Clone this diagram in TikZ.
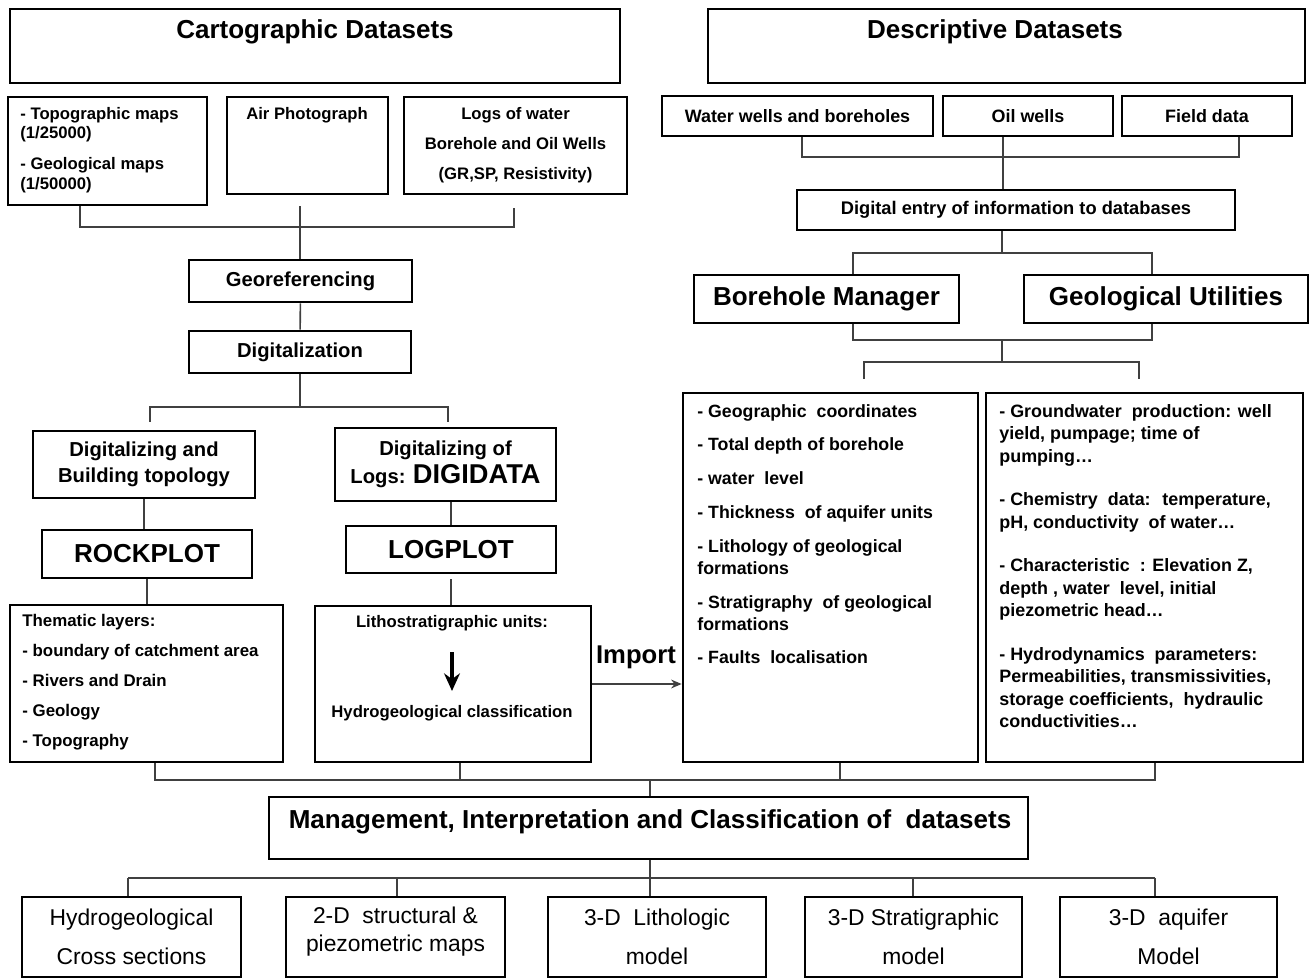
\documentclass[tikz,border=0pt]{standalone}
\usepackage{fontspec}
\setmainfont{Liberation Sans}
\usetikzlibrary{arrows.meta,positioning,fit,calc}

\begin{document}
\begin{tikzpicture}[x=0.02cm, y=-0.02cm, >=Stealth,
  box/.style={draw, line width=1.5pt, inner sep=0pt},
  link/.style={black!75, line width=0.9pt},
  big/.style={font=\bfseries\fontsize{14.8}{17}\selectfont, align=center},
  mid/.style={font=\bfseries\fontsize{11.5}{14.7}\selectfont, align=center},
  sml/.style={font=\bfseries\fontsize{9.5}{11}\selectfont, align=center},
  wel/.style={font=\bfseries\fontsize{10.2}{12}\selectfont},
  info/.style={font=\bfseries\fontsize{10.1}{12.6}\selectfont, inner sep=0pt, align=left, anchor=north west},
  outtxt/.style={font=\fontsize{13}{22}\selectfont, align=center},
]
  \useasboundingbox (0,0) rectangle (1311,979);

  %% ── Left: cartographic datasets ────────────────────────────
  \node[box, fit={(10,9) (620,83)}] (carto) {};
  \node[big] (cartot) at (315,32) {Cartographic Datasets};
  \node[box, fit={(8,97) (207,205)}] (topo) {};
  \node[sml, align=left, anchor=west, inner sep=0pt] (topot) at (20,150)
    {- Topographic maps\\(1/25000)\\[6.8pt]- Geological maps\\(1/50000)};
  \node[box, fit={(227,97) (388,194)}] (air) {};
  \node[sml] (airt) at (307,115) {Air Photograph};
  \node[box, fit={(404,97) (627,194)}] (logs) {};
  \node[sml] (logst) at (logs)
    {Logs of water\\[6pt]Borehole and Oil Wells\\[6pt](GR,SP, Resistivity)};

  \node[box, fit={(189,260) (412,302)}] (geo) {};
  \node[mid] (geot) at (geo) {Georeferencing};
  \node[box, fit={(189,331) (411,373)}] (digit) {};
  \node[mid] (digitt) at (digit) {Digitalization};
  \node[box, fit={(33,431) (255,498)}] (dgtopo) {};
  \node[mid] (dgtopot) at (dgtopo) {Digitalizing and\\Building topology};
  \node[box, fit={(335,428) (556,501)}] (dglogs) {};
  \node[mid] (dglogst) at (dglogs)
    {Digitalizing of\\[1pt]Logs: {\fontsize{15.5}{16}\selectfont DIGIDATA}};
  \node[box, fit={(42,530) (252,578)}] (rock) {};
  \node[big] (rockt) at (rock) {ROCKPLOT};
  \node[box, fit={(346,526) (556,573)}] (logplot) {};
  \node[big] (logplott) at (logplot) {LOGPLOT};

  \node[box, fit={(10,605) (283,762)}] (thema) {};
  \node[font=\bfseries\fontsize{9.6}{17}\selectfont, align=left, anchor=west, inner sep=0pt]
    (themat) at (22,682)
    {Thematic layers:\\- boundary of catchment area\\- Rivers and Drain\\- Geology\\- Topography};
  \node[box, fit={(315,606) (591,762)}] (litho) {};
  \node[sml] (lunits) at (452,623) {Lithostratigraphic units:};
  \node[sml] (hclass) at (452,713) {Hydrogeological classification};
  \draw[line width=2.2pt, -{Stealth[length=10pt,width=9pt]},
    shorten <=0.3cm, shorten >=0.16cm] (lunits.south) -- (hclass.north);

  %% ── Right: descriptive datasets ────────────────────────────
  \node[box, fit={(708,9) (1305,83)}] (descr) {};
  \node[big] (descrt) at (995,32) {Descriptive Datasets};
  \node[box, fit={(662,96) (933,136)}] (wells) {};
  \node[wel] (wellst) at (wells) {Water wells and boreholes};
  \node[box, fit={(943,96) (1113,136)}] (oil) {};
  \node[wel] (oilt) at (oil) {Oil wells};
  \node[box, fit={(1122,96) (1292,136)}] (field) {};
  \node[wel] (fieldt) at (field) {Field data};
  \node[box, fit={(797,190) (1235,230)}] (entry) {};
  \node[wel, font=\bfseries\fontsize{10.4}{12}\selectfont] (entryt) at (entry)
    {Digital entry of information to databases};
  \node[box, fit={(694,275) (959,323)}] (bhm) {};
  \node[big] (bhmt) at (bhm) {Borehole Manager};
  \node[box, fit={(1024,275) (1308,323)}] (geou) {};
  \node[big] (geout) at (geou) {Geological Utilities};

  \node[box, fit={(683,393) (978,762)}] (infoL) {};
  \node[info] (infoLt) at (697,404)
    {- Geographic~ coordinates\\[6.6pt]
     - Total depth of borehole\\[6.6pt]
     - water~ level\\[6.6pt]
     - Thickness~ of aquifer units\\[6.6pt]
     - Lithology of geological\\formations\\[6.6pt]
     - Stratigraphy~ of geological\\formations\\[6.6pt]
     - Faults~ localisation};
  \node[box, fit={(986,393) (1303,762)}] (infoR) {};
  \node[info, font=\bfseries\fontsize{10.2}{12.8}\selectfont] (infoRt) at (999,404)
    {- Groundwater~ production: well\\yield, pumpage; time of\\pumping\dots\\[12pt]
     - Chemistry~ data:~ temperature,\\pH, conductivity~ of water\dots\\[12pt]
     - Characteristic~ : Elevation Z,\\depth , water~ level, initial\\piezometric head\dots\\[12pt]
     - Hydrodynamics~ parameters:\\Permeabilities, transmissivities,\\storage coefficients,~ hydraulic\\conductivities\dots};

  \node[font=\bfseries\fontsize{14.6}{16}\selectfont] (imp) at (636,657) {Import};
  \draw[link, -{Stealth[length=6pt,width=5pt]}] (litho.east) -- (litho.east -| infoL.west);

  %% ── Bottom: management and outputs ────────────────────────
  \node[box, fit={(269,797) (1028,859)}] (mgmt) {};
  \node[big] (mgmtt) at (650,822) {Management, Interpretation and Classification of~ datasets};
  \node[box, fit={(22,897) (241,977)}] (out1) {};
  \node[outtxt] (out1t) at (out1) {Hydrogeological\\Cross sections};
  \node[box, fit={(286,897) (505,977)}] (out2) {};
  \node[outtxt] (out2t) at ([yshift=0.1cm]out2.center) {2-D~ structural \&\\[-6pt]piezometric maps};
  \node[box, fit={(548,897) (766,977)}] (out3) {};
  \node[outtxt] (out3t) at (out3) {3-D~ Lithologic\\model};
  \node[box, fit={(805,897) (1022,977)}] (out4) {};
  \node[outtxt] (out4t) at (out4) {3-D Stratigraphic\\model};
  \node[box, fit={(1060,897) (1277,977)}] (out5) {};
  \node[outtxt] (out5t) at (out5) {3-D~ aquifer\\Model};

  %% ── Bracket junctions ─────────────────────────────────────
  \coordinate (cL) at (80,227);   \coordinate (cM) at (300,227);  \coordinate (cR) at (514,227);
  \coordinate (dL) at (150,407);  \coordinate (dR) at (448,407);
  \coordinate (wL) at (802,157);  \coordinate (wM) at (1003,157); \coordinate (wR) at (1239,157);
  \coordinate (eL) at (853,253);  \coordinate (eM) at (1002,253); \coordinate (eR) at (1152,253);
  \coordinate (gL) at (853,340);  \coordinate (gM) at (1002,340);
  \coordinate (hL) at (864,362);  \coordinate (hM) at (1002,362); \coordinate (hR) at (1139,362);
  \coordinate (mL) at (155,780);  \coordinate (mB) at (460,780);  \coordinate (mM) at (650,780);
  \coordinate (mC) at (840,780);  \coordinate (mR) at (1155,780);
  \coordinate (oB) at (650,878);

  %% left chain
  \draw[link, shorten >=0.26cm] (cL |- topo.south) -- (cL) -- (cR) -- (cR |- logs.south);
  \draw[link, shorten <=0.22cm] (cM |- air.south) -- (cM) -- (cM |- geo.north);
  \draw[link] (geo) -- (digit);
  \draw[link] (digit.south) -- (digit.south |- dL);
  \draw[link, shorten <=0.16cm, shorten >=0.1cm] (dL |- dgtopo.north) -- (dL) -- (dR) -- (dR |- dglogs.north);
  \draw[link] (dgtopo.south) -- (dgtopo.south |- rock.north);
  \draw[link] (logplot.north) -- (logplot.north |- dglogs.south);
  \draw[link] (rock.south) -- (rock.south |- thema.north);
  \draw[link, shorten <=0.1cm] (logplot.south) -- (logplot.south |- litho.north);

  %% right chain
  \draw[link] (wL |- wells.south) -- (wL) -- (wR) -- (wR |- field.south);
  \draw[link] (wM |- oil.south) -- (wM |- entry.north);
  \draw[link] (eM |- entry.south) -- (eM);
  \draw[link] (eL |- bhm.north) -- (eL) -- (eR) -- (eR |- geou.north);
  \draw[link] (eL |- bhm.south) -- (gL) -- (eR |- gL) -- (eR |- geou.south);
  \draw[link] (gM) -- (hM);
  \draw[link, shorten <=0.26cm, shorten >=0.26cm] (hL |- infoL.north) -- (hL) -- (hR) -- (hR |- infoR.north);

  %% merge and outputs
  \draw[link] (mL |- thema.south) -- (mL) -- (mR) -- (mR |- infoR.south);
  \draw[link] (mB |- litho.south) -- (mB);
  \draw[link] (mC |- infoL.south) -- (mC);
  \draw[link] (mM) -- (mM |- mgmt.north);
  \draw[link] (oB |- mgmt.south) -- (oB);
  \draw[link] (oB -| 128,0) -- (oB -| 1155,0);
  \foreach \n/\xx in {out1/128,out2/397,out3/650,out4/913,out5/1155}
    \draw[link] (oB -| \xx,0) -- (\n.north -| \xx,0);
\end{tikzpicture}
\end{document}
